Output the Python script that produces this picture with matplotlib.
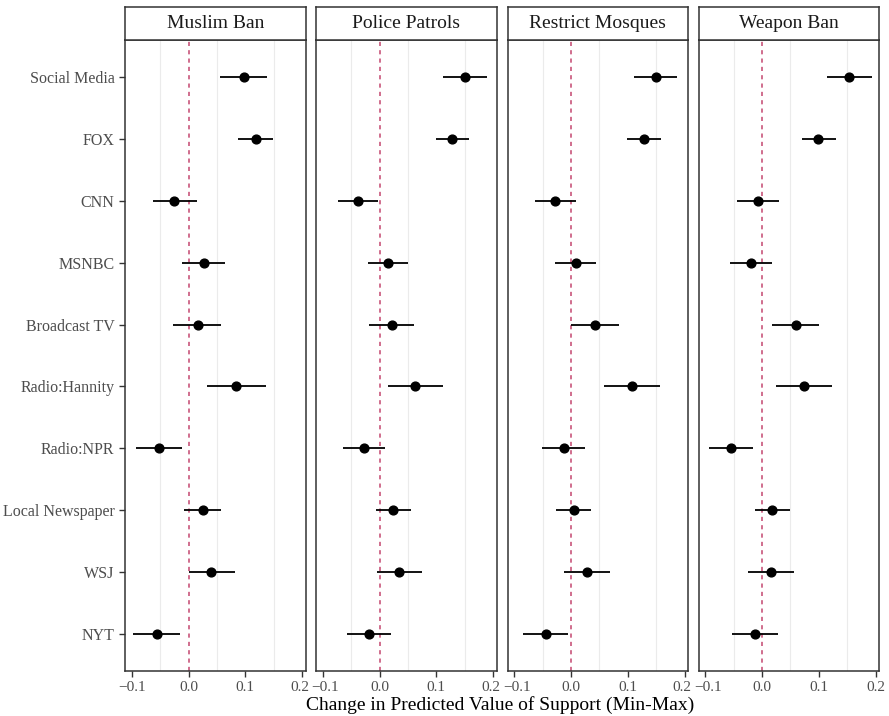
import matplotlib
matplotlib.use("Agg")
import matplotlib.pyplot as plt
import matplotlib.transforms as mtransforms

plt.rcParams['font.family'] = ['Liberation Serif', 'DejaVu Serif']

sources = ["Social Media", "FOX", "CNN", "MSNBC", "Broadcast TV",
           "Radio:Hannity", "Radio:NPR", "Local Newspaper", "WSJ", "NYT"]
policies = ["Muslim Ban", "Police Patrols", "Restrict Mosques", "Weapon Ban"]

# point estimates, lower and upper bounds per policy (order follows sources)
muslim_ban_est = [0.097, 0.118, -0.025, 0.027, 0.016, 0.084, -0.052, 0.025, 0.039, -0.056]
muslim_ban_lo = [0.056, 0.087, -0.062, -0.011, -0.027, 0.033, -0.092, -0.008, 0.000, -0.098]
muslim_ban_hi = [0.138, 0.149, 0.015, 0.065, 0.058, 0.136, -0.012, 0.057, 0.082, -0.015]

police_est = [0.150, 0.128, -0.038, 0.014, 0.022, 0.063, -0.027, 0.024, 0.035, -0.018]
police_lo = [0.112, 0.099, -0.074, -0.021, -0.018, 0.015, -0.065, -0.006, -0.005, -0.057]
police_hi = [0.189, 0.158, -0.002, 0.050, 0.061, 0.112, 0.009, 0.055, 0.074, 0.021]

mosques_est = [0.149, 0.128, -0.028, 0.008, 0.042, 0.108, -0.013, 0.005, 0.028, -0.045]
mosques_lo = [0.111, 0.098, -0.064, -0.029, 0.000, 0.058, -0.051, -0.027, -0.012, -0.085]
mosques_hi = [0.187, 0.158, 0.009, 0.044, 0.084, 0.157, 0.025, 0.035, 0.068, -0.005]

weapon_est = [0.154, 0.099, -0.008, -0.019, 0.059, 0.074, -0.055, 0.018, 0.016, -0.013]
weapon_lo = [0.115, 0.070, -0.045, -0.056, 0.018, 0.024, -0.093, -0.013, -0.024, -0.053]
weapon_hi = [0.193, 0.130, 0.029, 0.018, 0.100, 0.124, -0.016, 0.049, 0.057, 0.028]

estimates = [muslim_ban_est, police_est, mosques_est, weapon_est]
lowers = [muslim_ban_lo, police_lo, mosques_lo, weapon_lo]
uppers = [muslim_ban_hi, police_hi, mosques_hi, weapon_hi]

W, H = 889, 716
fig = plt.figure(figsize=(W / 100, H / 100), dpi=100)

edge = "#333333"
lefts = [125, 316, 507.5, 698.5]
pw = 180.5
top, bottom = 40, 671
strip_top = 7

y = list(range(len(sources)))

for i, policy in enumerate(policies):
    ax = fig.add_axes([lefts[i] / W, 1 - bottom / H, pw / W, (bottom - top) / H])
    for g in [-0.05, 0.05, 0.15]:
        ax.axvline(g, color="#ebebeb", lw=0.8, zorder=0)
    ax.axvline(0, color="#c8557a", lw=1.2, ls=(0, (2.5, 2.5)), zorder=1)
    ax.hlines(y, lowers[i], uppers[i], color="black", lw=1.3, zorder=2)
    ax.scatter(estimates[i], y, s=40, color="black", zorder=3)
    ax.set_xlim(-0.112, 0.206)
    ax.set_ylim(len(sources) - 0.4, -0.6)
    ax.set_xticks([-0.1, 0.0, 0.1, 0.2])
    ax.set_xticklabels(["\u22120.1", "0.0", "0.1", "0.2"])
    ax.set_yticks(y)
    if i == 0:
        ax.set_yticklabels(sources)
    else:
        ax.tick_params(axis="y", left=False, labelleft=False)
    ax.tick_params(colors=edge, labelcolor="#4d4d4d", labelsize=11.5, length=4, width=1)
    ax.tick_params(axis="x", labelsize=11)
    # nudge the end labels apart so neighbouring panels don't collide
    labels = ax.get_xticklabels()
    if i > 0:
        labels[0].set_transform(labels[0].get_transform() +
                                mtransforms.ScaledTranslation(2.5 / 100, 0, fig.dpi_scale_trans))
    if i < len(policies) - 1:
        labels[-1].set_transform(labels[-1].get_transform() +
                                 mtransforms.ScaledTranslation(-2.5 / 100, 0, fig.dpi_scale_trans))
    for s in ax.spines.values():
        s.set_color(edge)
        s.set_linewidth(1.1)

    sax = fig.add_axes([lefts[i] / W, 1 - top / H, pw / W, (top - strip_top) / H])
    sax.set_xticks([])
    sax.set_yticks([])
    for s in sax.spines.values():
        s.set_color(edge)
        s.set_linewidth(1.1)
    sax.text(0.5, 0.5, policy, ha="center", va="center", fontsize=14, color="#1a1a1a",
             transform=sax.transAxes)

fig.text(500 / W, 1 - 705 / H, "Change in Predicted Value of Support (Min-Max)",
         ha="center", va="center", fontsize=14, color="black")

fig.savefig("out.png", dpi=100)
